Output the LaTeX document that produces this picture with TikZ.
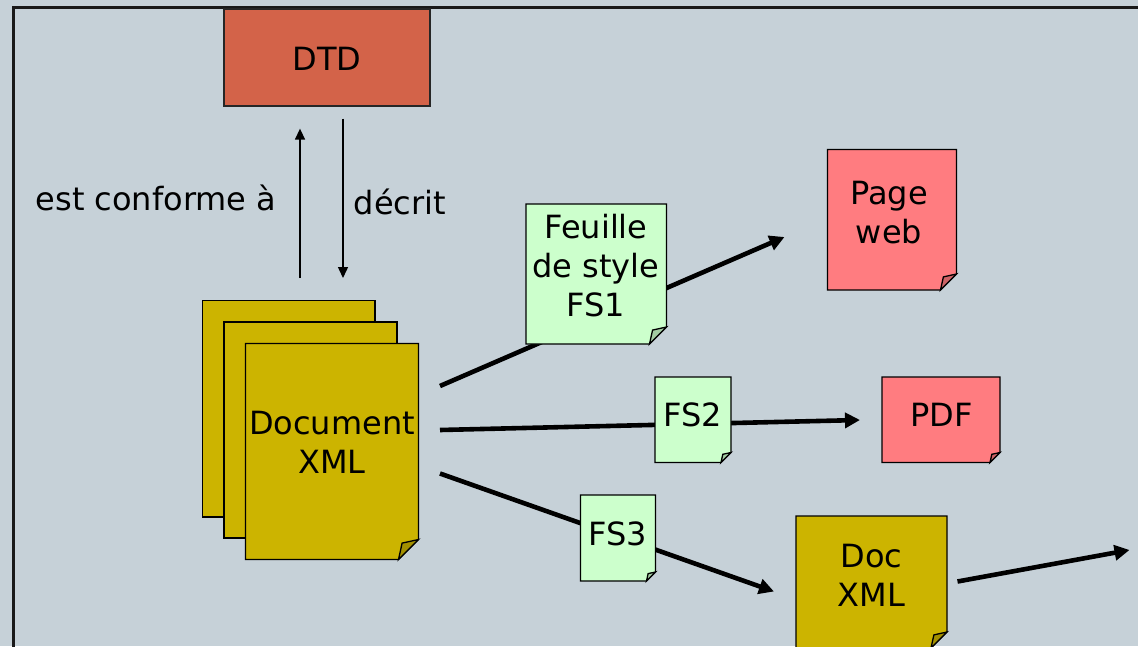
\documentclass[tikz,border=0pt]{standalone}
\usepackage{fontspec}
\setmainfont{DejaVu Sans}
\usetikzlibrary{arrows.meta}

\pgfdeclarelayer{ground}
\pgfdeclarelayer{links}
\pgfdeclarelayer{sheets}
\pgfsetlayers{ground,links,sheets,main}

\definecolor{panel}{HTML}{C6D1D8}
\definecolor{dtdred}{HTML}{D36349}
\definecolor{xmlgold}{HTML}{CCB400}
\definecolor{fsgreen}{HTML}{CCFFCC}
\definecolor{outpink}{HTML}{FF7C80}

\tikzset{
  sheet/.style={draw=black, line width=1.3pt, line join=miter},
  txt/.style={font=\fontsize{32}{39}\selectfont, align=center, inner sep=0pt},
  thinarrow/.style={line width=1.4pt, -{Triangle[length=11pt,width=10pt]}},
  flowarrow/.style={line width=4.6pt, -{Triangle[length=15pt,width=15pt]}},
}

% plain sheet: name, left, top, right, bottom, colour
\newcommand\plainsheet[6]{%
  \node[inner sep=0pt, minimum width={(#4-#2)*1pt}, minimum height={(#5-#3)*1pt}]
    (#1) at ({(#2+#4)/2},{(#3+#5)/2}) {};
  \begin{pgfonlayer}{sheets}
    \filldraw[sheet, fill=#6] (#2,#3) rectangle (#4,#5);
  \end{pgfonlayer}}

% sheet with a folded bottom-right corner: name, left, top, right, bottom, fold, colour
\newcommand\foldedsheet[7]{%
  \node[inner sep=0pt, minimum width={(#4-#2)*1pt}, minimum height={(#5-#3)*1pt}]
    (#1) at ({(#2+#4)/2},{(#3+#5)/2}) {};
  \begin{pgfonlayer}{sheets}
    \filldraw[sheet, fill=#7] (#2,#3) -- (#4,#3) -- (#4,{#5-#6}) -- ({#4-#6},#5) -- (#2,#5) -- cycle;
    \filldraw[sheet, fill=#7!80!black] ({#4-#6},#5) -- ({#4-0.82*#6},{#5-0.82*#6}) -- (#4,{#5-#6}) -- cycle;
  \end{pgfonlayer}}

\begin{document}
\begin{tikzpicture}[x=1pt, y=-1pt]
  \useasboundingbox (0,0) rectangle (1138,646);

  \begin{pgfonlayer}{ground}
    \fill[panel] (0,0) rectangle (1138,646);
    \draw[line width=2.2pt, draw=black!90] (13.5,7.5) rectangle (1160,680);
  \end{pgfonlayer}

  % DTD box
  \node[draw=black!85, line width=1.3pt, fill=dtdred, inner sep=0pt,
        minimum width=206pt, minimum height=97pt] (dtd) at (327,57.5) {};
  \node[txt] (dtd-text) at (327,59) {DTD};

  % stack of XML documents
  \plainsheet{doc-back}{202.5}{300.5}{375}{517}{xmlgold}
  \plainsheet{doc-mid}{224}{322}{397}{538}{xmlgold}
  \foldedsheet{doc}{245.5}{343.5}{418.5}{559.5}{20}{xmlgold}
  \node[txt] (doc-text) at (332,442) {Document\\XML};

  % style sheets
  \foldedsheet{fs1}{526}{204}{666.5}{344}{17}{fsgreen}
  \node[txt] (fs1-text) at (596,265.5) {Feuille\\de style\\FS1};
  \foldedsheet{fs2}{655}{377}{731}{462.5}{10}{fsgreen}
  \node[txt] (fs2-text) at (693,415) {FS2};
  \foldedsheet{fs3}{580.5}{495}{655.5}{581}{9}{fsgreen}
  \node[txt] (fs3-text) at (618,534) {FS3};

  % results
  \foldedsheet{web}{827.5}{149.5}{956.5}{290}{16}{outpink}
  \node[txt] (web-text) at (889,213) {Page\\web};
  \foldedsheet{pdf}{882}{377}{1000}{462.5}{10}{outpink}
  \node[txt] (pdf-text) at (941.5,415) {PDF};
  \foldedsheet{docxml}{796}{516}{947}{648}{16}{xmlgold}
  \node[txt] (docxml-text) at (871.5,575.5) {Doc\\XML};

  % relation labels
  \node[txt, anchor=base] (conf) at (156,210.5) {est conforme à};
  \node[txt, anchor=base] (desc) at (400,214) {décrit};

  % ends of the connectors
  \coordinate (upfoot) at (300,278);
  \coordinate (downtip) at (343,278);
  \coordinate (o1) at (440,386);
  \coordinate (t1) at (784.5,237);
  \coordinate (o2) at (440,430);
  \coordinate (t2) at (860,420);
  \coordinate (o3) at (440,473.5);
  \coordinate (t3) at (774,591.5);
  \coordinate (o4) at (957.5,581.5);
  \coordinate (t4) at (1129.5,550);

  \begin{pgfonlayer}{links}
    \draw[thinarrow, shorten >=22pt] (upfoot) -- (upfoot |- dtd.south);
    \draw[thinarrow, shorten <=12pt] (downtip |- dtd.south) -- (downtip);
    \draw[flowarrow] (o1) -- (t1);
    \draw[flowarrow] (o2) -- (t2);
    \draw[flowarrow] (o3) -- (t3);
    \draw[flowarrow] (o4) -- (t4);
  \end{pgfonlayer}
\end{tikzpicture}
\end{document}
